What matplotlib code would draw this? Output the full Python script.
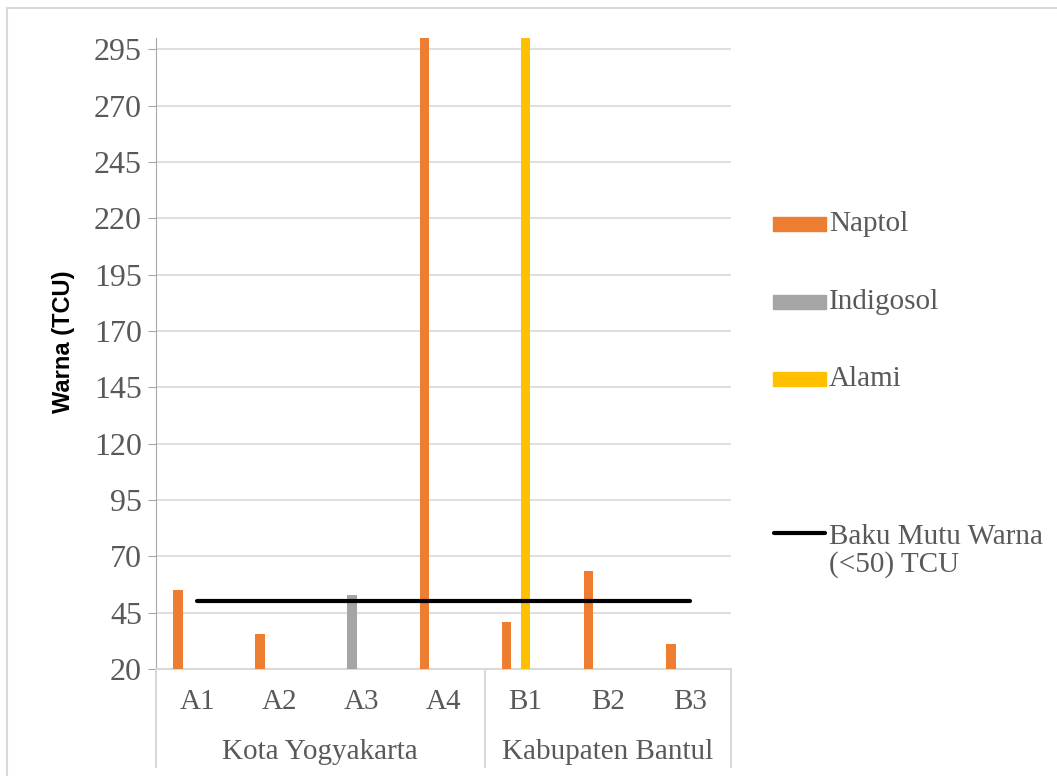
import matplotlib.pyplot as plt
from matplotlib.patches import Rectangle
from matplotlib.lines import Line2D

# sample points and their districts
sites = ['A1', 'A2', 'A3', 'A4', 'B1', 'B2', 'B3']
groups = ['Kota Yogyakarta', 'Kabupaten Bantul']
group_sizes = [4, 3]

# colour (TCU) per dye type, None = no sample
naptol = [55, 35.5, None, 320, 41, 63.5, 31]
indigosol = [None, None, 53, None, None, None, None]
alami = [None, None, None, None, 320, None, None]
baku_mutu = 50

series = [('Naptol', naptol, '#ED7D31', 1),
          ('Indigosol', indigosol, '#A5A5A5', 2),
          ('Alami', alami, '#FFC000', 3)]

W, H = 1057, 776
fig = plt.figure(figsize=(W / 100, H / 100), dpi=100)
ax = fig.add_axes([156 / W, 1 - 669 / H, (731 - 156) / W, (669 - 38) / H])

txt = '#595959'
serif = 'Liberation Serif'
fs = 21

bw = 0.116
for name, vals, col, slot in series:
    xs = [i + (slot - 3) * bw for i, v in enumerate(vals) if v is not None]
    hs = [v for v in vals if v is not None]
    ax.bar(xs, hs, width=bw, color=col, zorder=3, label=name)

ax.plot([0, len(sites) - 1], [baku_mutu, baku_mutu], color='black', lw=3,
        solid_capstyle='round', zorder=4)

ax.set_xlim(-0.5, len(sites) - 0.5)
ax.set_ylim(20, 300)
ax.set_yticks(range(20, 300, 25))
ax.yaxis.grid(True, color='#D9D9D9', lw=1.2, zorder=0)
ax.set_axisbelow(True)

for s in ['top', 'right']:
    ax.spines[s].set_visible(False)
ax.spines['left'].set_color('#A6A6A6')
ax.spines['bottom'].set_color('#D9D9D9')
ax.spines['bottom'].set_linewidth(1.5)

ax.tick_params(axis='y', direction='out', length=6, color='#A6A6A6',
               labelsize=23, labelcolor=txt, pad=4)
for t in ax.get_yticklabels():
    t.set_fontfamily(serif)
ax.set_xticks([])

ax.set_ylabel('Warna (TCU)', fontsize=17, fontweight='bold',
              family=['Liberation Sans Narrow', 'Liberation Sans'])
ax.yaxis.set_label_coords(-0.14, 0.518)

# two-level category axis
tr = ax.get_xaxis_transform()
for i, s in enumerate(sites):
    ax.text(i, -0.052, s, transform=tr, ha='center', va='center',
            fontsize=fs, color=txt, family=serif)
start = 0
bounds = [-0.5]
for g, n in zip(groups, group_sizes):
    ax.text(start + (n - 1) / 2, -0.131, g, transform=tr, ha='center',
            va='center', fontsize=fs, color=txt, family=serif)
    start += n
    bounds.append(start - 0.5)
for b in bounds:
    ax.plot([b, b], [0, -0.155], transform=tr, color='#D9D9D9', lw=1.5,
            clip_on=False)

# legend drawn in pixel positions on the figure
def fx(px):
    return px / W

def fy(py):
    return 1 - py / H

for (name, vals, col, slot), yc in zip(series, [224, 302, 379]):
    fig.add_artist(Rectangle((fx(773), fy(yc + 7)), fx(53), 14 / H,
                             color=col, transform=fig.transFigure))
    fig.text(fx(829), fy(yc), name, fontsize=fs, color=txt, family=serif,
             va='center', ha='left')
fig.add_artist(Line2D([fx(774), fx(825)], [fy(533), fy(533)], color='black',
                      lw=3, solid_capstyle='round'))
fig.text(fx(829), fy(551), 'Baku Mutu Warna\n(<50) TCU', fontsize=fs,
         color=txt, family=serif, va='center', ha='left', linespacing=1.1)

# chart frame
fig.add_artist(Line2D([fx(7), 1], [fy(8), fy(8)], color='#D9D9D9', lw=1.5))
fig.add_artist(Line2D([fx(7), fx(7)], [fy(8), 0], color='#D9D9D9', lw=1.5))

fig.savefig('out.png', dpi=100, facecolor='white')
